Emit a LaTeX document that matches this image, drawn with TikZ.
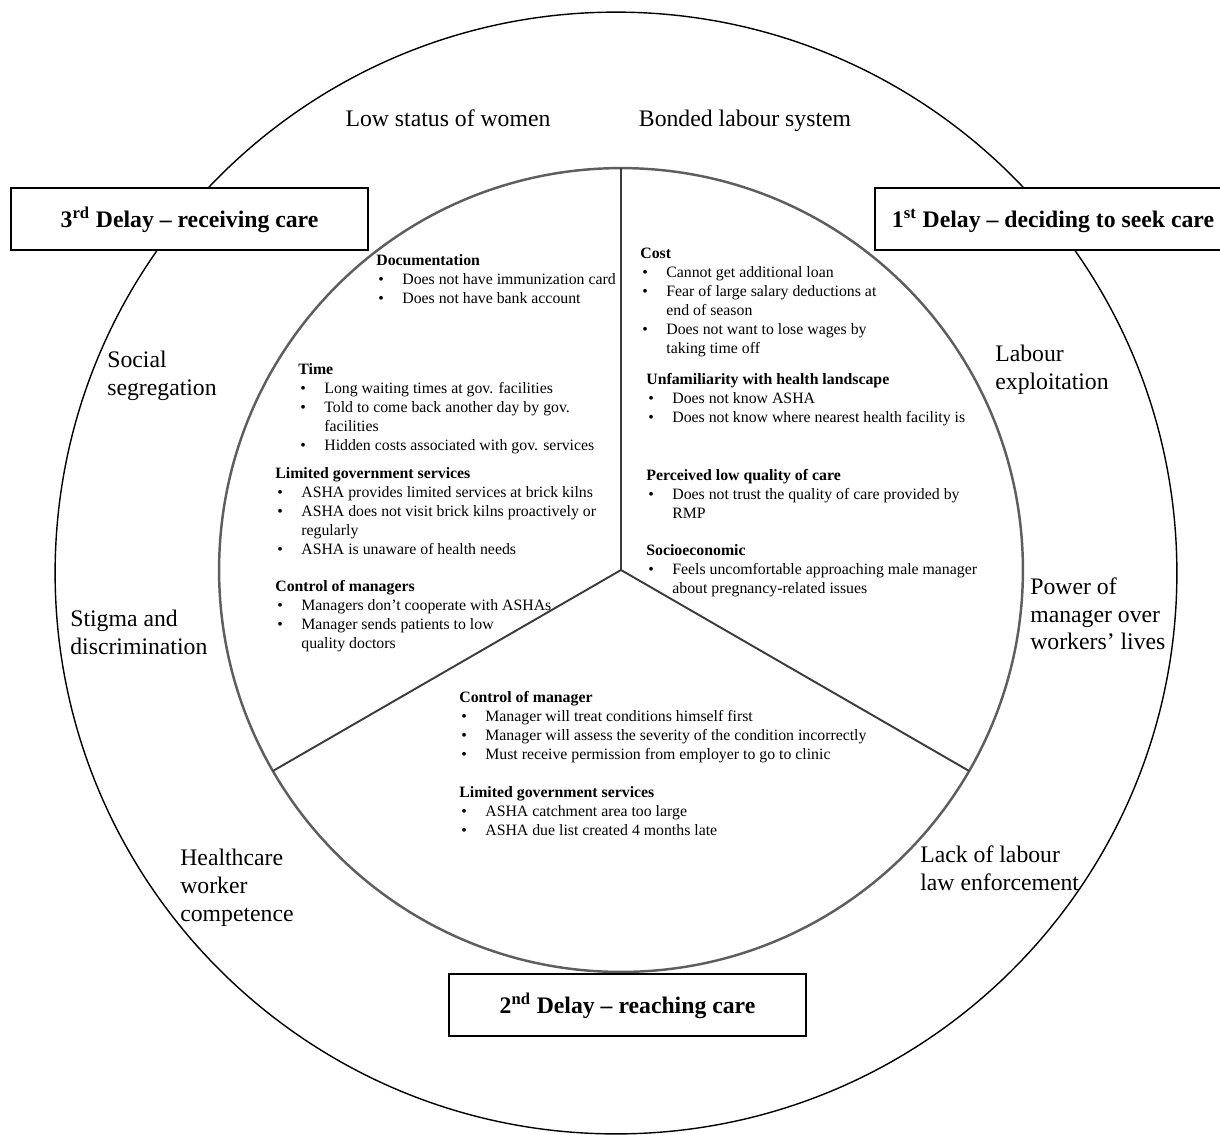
\documentclass[tikz,border=0pt]{standalone}
\usepackage{fontspec}
\setmainfont{Liberation Serif}
\usetikzlibrary{calc,positioning}
\definecolor{ringGray}{HTML}{5E5E5E}
\definecolor{spokeGray}{HTML}{3C3C3C}
\newcommand{\itm}{\makebox[0.52cm][l]{\hspace{0.04cm}\textbullet}}
\newcommand{\cnt}{\hspace*{0.52cm}}
\tikzset{
  outerRing/.style={
    circle,
    draw=black,
    line width=0.8pt,
    minimum size=22.44cm,
    inner sep=0pt,
    outer sep=0pt
  },
  innerRing/.style={
    circle,
    draw=ringGray,
    line width=1.4pt,
    minimum size=16.08cm,
    inner sep=0pt,
    outer sep=0pt
  },
  spokeLine/.style={draw=spokeGray, line width=1.1pt},
  delayBox/.style={
    draw=black,
    line width=1.1pt,
    fill=white,
    minimum width=7.14cm,
    minimum height=1.24cm,
    inner sep=0pt,
    text height=12pt,
    text depth=2pt,
    font=\fontsize{13.5}{16}\selectfont\bfseries
  },
  ringLabel/.style={
    anchor=north west,
    inner sep=0pt,
    align=left,
    font=\fontsize{13.5}{15.9}\selectfont
  },
  causeBlock/.style={
    anchor=north west,
    inner sep=0pt,
    align=left,
    font=\fontsize{9}{10.8}\selectfont
  }
}

\begin{document}
\begin{tikzpicture}[x=0.02cm,y=-0.02cm]
  \path[use as bounding box, clip] (0,0) rectangle (1220,1134);

  \node[outerRing] (outer) at (616,573) {};
  \node[innerRing] (ring) at (621,570) {};
  \coordinate (hub) at (621,570);
  \draw[spokeLine] (hub) -- (ring.90);
  \draw[spokeLine] (hub) -- (ring.210);
  \draw[spokeLine] (hub) -- (ring.330);

  \node[font=\fontsize{13.5}{15.9}\selectfont, inner sep=0pt, anchor=base]
    (statusWomen) at (448,126) {Low status of women};
  \node[font=\fontsize{13.5}{15.9}\selectfont, inner sep=0pt, anchor=base]
    (bondedLabour) at (745,126) {Bonded labour system};
  \node[ringLabel] (socialSeg) at (107,351) {Social\\segregation};
  \node[ringLabel] (stigma) at (70,610) {Stigma and\\discrimination};
  \node[ringLabel] (hcWorker) at (180,849) {Healthcare\\worker\\competence};
  \node[ringLabel] (labourExp) at (995,345) {Labour\\exploitation};
  \node[ringLabel] (managerPower) at (1030,577) {Power of\\manager over\\workers’ lives};
  \node[ringLabel] (lawEnf) at (920,845) {Lack of labour\\law enforcement};

  \node[causeBlock] (docBlock) at (376,254)
    {\textbf{Documentation}\\
    \itm Does not have immunization card\\
    \itm Does not have bank account};
  \node[causeBlock] (timeBlock) at (298,363)
    {\textbf{Time}\\
    \itm Long waiting times at gov. facilities\\
    \itm Told to come back another day by gov.\\
    \cnt facilities\\
    \itm Hidden costs associated with gov. services};
  \node[causeBlock] (govLeft) at (275,467)
    {\textbf{Limited government services}\\
    \itm ASHA provides limited services at brick kilns\\
    \itm ASHA does not visit brick kilns proactively or\\
    \cnt regularly\\
    \itm ASHA is unaware of health needs};
  \node[causeBlock] (mgrLeft) at (275,580)
    {\textbf{Control of managers}\\
    \itm Managers don’t cooperate with ASHAs\\
    \itm Manager sends patients to low\\
    \cnt quality doctors};

  \node[causeBlock] (costBlock) at (640,248)
    {\textbf{Cost}\\
    \itm Cannot get additional loan\\
    \itm Fear of large salary deductions at\\
    \cnt end of season\\
    \itm Does not want to lose wages by\\
    \cnt taking time off};
  \node[causeBlock] (unfamBlock) at (646,373)
    {\textbf{Unfamiliarity with health landscape}\\
    \itm Does not know ASHA\\
    \itm Does not know where nearest health facility is};
  \node[causeBlock] (qualityBlock) at (646,469)
    {\textbf{Perceived low quality of care}\\
    \itm Does not trust the quality of care provided by\\
    \cnt RMP};
  \node[causeBlock] (socioBlock) at (646,544)
    {\textbf{Socioeconomic}\\
    \itm Feels uncomfortable approaching male manager\\
    \cnt about pregnancy-related issues};

  \node[causeBlock] (mgrBottom) at (459,691)
    {\textbf{Control of manager}\\
    \itm Manager will treat conditions himself first\\
    \itm Manager will assess the severity of the condition incorrectly\\
    \itm Must receive permission from employer to go to clinic};
  \node[causeBlock] (govBottom) at (459,786)
    {\textbf{Limited government services}\\
    \itm ASHA catchment area too large\\
    \itm ASHA due list created 4 months late};

  \node[delayBox] (delayThree) at (189.5,219) {3\textsuperscript{rd} Delay – receiving care};
  \node[delayBox] (delayOne) at (1053,219) {1\textsuperscript{st} Delay – deciding to seek care};
  \node[delayBox] (delayTwo) at (627.5,1005) {2\textsuperscript{nd} Delay – reaching care};
\end{tikzpicture}
\end{document}
